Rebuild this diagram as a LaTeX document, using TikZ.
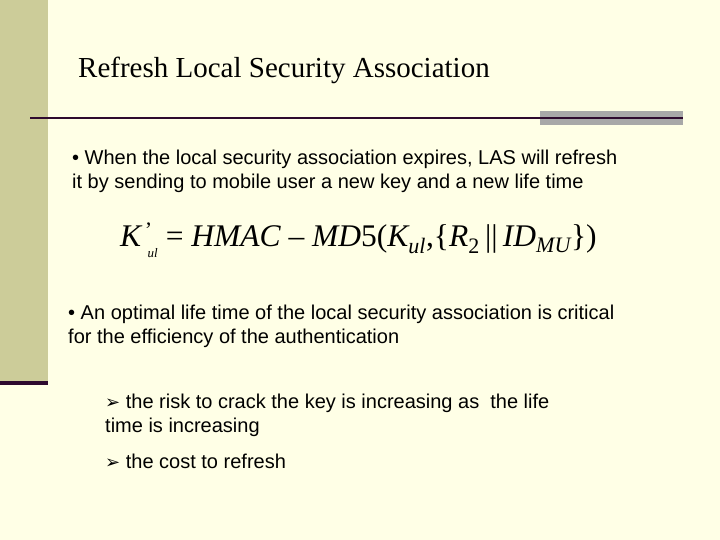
\documentclass[tikz,border=0pt]{standalone}
\usepackage{fontspec}
\setmainfont{Liberation Serif}
\setsansfont{Liberation Sans}
\newfontfamily\djv{DejaVu Sans}
\definecolor{bg}{HTML}{FFFFE6}
\definecolor{barc}{HTML}{CCCC99}
\definecolor{dline}{HTML}{2E0A2E}
\definecolor{gbar}{HTML}{A8A8A8}
\tikzset{body/.style={anchor=base west,inner sep=0pt,font=\sffamily\fontsize{20}{24}\selectfont,align=left}}
\begin{document}
\begin{tikzpicture}[x=1pt,y=-1pt]
\useasboundingbox (0,0) rectangle (720,540);
\fill[bg] (0,0) rectangle (720,540);
\fill[barc] (0,0) rectangle (48,383);
\fill[dline] (0,381) rectangle (48,385);
\fill[gbar] (540,111) rectangle (683,125);
\draw[dline,line width=2pt] (30,118) -- (683,118);
\node[anchor=base west,inner sep=0pt,font=\fontsize{29}{32}\selectfont] (title) at (78,78) {Refresh Local Security Association};
\node[body] (b1) at (72,189) {• When the local security association expires, LAS will refresh\\it by sending to mobile user a new key and a new life time};
\node[anchor=base west,inner sep=0pt,font=\fontsize{31.5}{36}\selectfont] (f) at (120,247) {\itshape K\textsuperscript{\upshape\,'}\kern-5pt\raisebox{-11pt}{\fontsize{13}{13}\selectfont ul}\kern8pt{\upshape=} HMAC {\upshape –} MD{\upshape 5(}K\textsubscript{ul}{\upshape,\{}R\textsubscript{\upshape 2}{\upshape\,||\,}ID\textsubscript{MU}{\upshape\})}};
\node[body] (b2) at (68,343) {• An optimal life time of the local security association is critical\\for the efficiency of the authentication};
\node[body] (s1) at (105,432) {{\djv\fontsize{18}{18}\selectfont ➢} the risk to crack the key is increasing as\ \ the life\\time is increasing};
\node[body] (s2) at (105,468) {{\djv\fontsize{18}{18}\selectfont ➢} the cost to refresh};
\end{tikzpicture}
\end{document}
